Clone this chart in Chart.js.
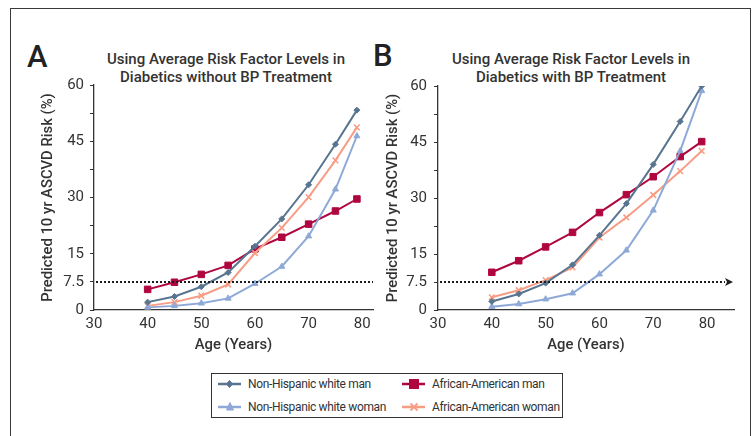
<!DOCTYPE html>
<html>
<head>
<meta charset="utf-8">
<script src="https://cdn.jsdelivr.net/npm/chart.js@4/dist/chart.umd.min.js"></script>
<style>
  body { margin: 0; width: 756px; height: 436px; background: #fff; position: relative; overflow: hidden;
         font-family: Roboto, "Noto Sans", sans-serif; color: #2e2e2e; }
  #frame { position: absolute; left: 10px; top: 8px; width: 741px; height: 460px;
           border: 1.5px solid #3a3a3a; box-sizing: border-box; }
  .letter { position: absolute; font-size: 31px; font-weight: 500; line-height: 30px; color: #222; }
  .title { position: absolute; width: 320px; text-align: center; font-size: 15px; font-weight: 500;
           line-height: 18px; color: #333; }
  .chart-box { position: absolute; top: 70px; width: 370px; height: 300px; }
  #legend { position: absolute; left: 211px; top: 373px; width: 352px; height: 45px;
            border: 1.3px solid #333; box-sizing: border-box; font-size: 12px; letter-spacing: -0.35px; color: #333; }
  .item { position: absolute; height: 16px; line-height: 16px; white-space: nowrap; }
  .item svg { position: absolute; left: 0; top: 0; }
  .item span { position: absolute; left: 30px; top: 0; }
</style>
</head>
<body>
<div id="frame"></div>

<div class="letter" style="left:27px; top:42px;">A</div>
<div class="letter" style="left:373px; top:41px;">B</div>
<div class="title" style="left:66px; top:50px;">Using Average Risk Factor Levels in<br>Diabetics without BP Treatment</div>
<div class="title" style="left:411px; top:50px;">Using Average Risk Factor Levels in<br>Diabetics with BP Treatment</div>

<div class="chart-box" style="left:10px;"><canvas id="chartA" width="370" height="300"></canvas></div>
<div class="chart-box" style="left:380px;"><canvas id="chartB" width="370" height="300"></canvas></div>

<div id="legend"></div>

<script>
// ---- data ----
var ages = [40, 45, 50, 55, 60, 65, 70, 75, 79];

// A: diabetics without BP treatment
var noTxWhiteMan   = [2.1, 3.6, 6.2, 10.0, 17.0, 24.3, 33.4, 44.2, 53.3];
var noTxWhiteWoman = [0.7, 1.1, 1.8, 3.1, 7.0, 11.6, 19.7, 32.2, 46.4];
var noTxBlackMan   = [5.5, 7.4, 9.5, 11.9, 16.3, 19.4, 22.9, 26.4, 29.6];
var noTxBlackWoman = [1.1, 2.1, 3.8, 6.8, 15.2, 21.9, 30.1, 39.9, 48.7];

// B: diabetics with BP treatment
var txWhiteMan   = [2.3, 4.3, 7.2, 12.1, 20.0, 28.5, 39.0, 50.5, 60.0];
var txWhiteWoman = [0.9, 1.6, 2.9, 4.5, 9.6, 16.0, 26.7, 42.6, 58.7];
var txBlackMan   = [10.1, 13.2, 16.9, 20.8, 26.1, 30.9, 35.7, 41.1, 45.1];
var txBlackWoman = [3.4, 5.3, 8.0, 11.4, 19.4, 24.8, 30.8, 37.2, 42.6];

var seriesNames = ['Non-Hispanic white man', 'African-American man', 'Non-Hispanic white woman', 'African-American woman'];
var xTicks = [30, 40, 50, 60, 70, 80];
var yTicks = [0, 7.5, 15, 22.5, 30, 37.5, 45, 52.5, 60];
var yLabels = [0, 7.5, 15, 30, 45, 60];
var threshold = 7.5;

(function() {
    'use strict';

    var colors = {
        whiteMan: '#587590',
        whiteWoman: '#8ea9d8',
        blackMan: '#b0063f',
        blackWoman: '#f89d85'
    };
    var textColor = '#333';

    function toPoints(values) {
        return values.map(function(v, i) { return { x: ages[i], y: v }; });
    }

    function makeDataset(label, values, color, style, radius) {
        return {
            label: label,
            data: toPoints(values),
            borderColor: color,
            backgroundColor: color,
            borderWidth: 2,
            pointStyle: style,
            pointRadius: radius,
            pointBorderWidth: style === 'crossRot' ? 1.6 : 1,
            pointBackgroundColor: color,
            pointBorderColor: color,
            tension: 0,
            showLine: true
        };
    }

    // Dotted reference line at the 7.5% threshold
    var thresholdLine = {
        id: 'thresholdLine',
        afterDatasetsDraw: function(chart, args, opts) {
            var ctx = chart.ctx;
            var area = chart.chartArea;
            var y = chart.scales.y.getPixelForValue(opts.value);
            var x1 = opts.arrow ? area.right - 9 : area.right;
            ctx.save();
            ctx.strokeStyle = '#1e1e1e';
            ctx.lineWidth = 2;
            ctx.setLineDash([2, 2]);
            ctx.beginPath();
            ctx.moveTo(area.left + 2, y);
            ctx.lineTo(x1, y);
            ctx.stroke();
            if (opts.arrow) {
                ctx.setLineDash([]);
                ctx.fillStyle = '#1e1e1e';
                ctx.beginPath();
                ctx.moveTo(area.right - 1, y);
                ctx.lineTo(area.right - 9, y - 4);
                ctx.lineTo(area.right - 7, y);
                ctx.lineTo(area.right - 9, y + 4);
                ctx.closePath();
                ctx.fill();
            }
            ctx.restore();
        }
    };

    function buildChart(id, sets, cfg) {
        var ctx = document.getElementById(id).getContext('2d');
        return new Chart(ctx, {
            type: 'scatter',
            data: {
                datasets: [
                    makeDataset(seriesNames[0], sets[0], colors.whiteMan, 'rectRot', 3),
                    makeDataset(seriesNames[2], sets[1], colors.whiteWoman, 'triangle', 3.5),
                    makeDataset(seriesNames[3], sets[3], colors.blackWoman, 'crossRot', 4),
                    makeDataset(seriesNames[1], sets[2], colors.blackMan, 'rect', 4.6)
                ]
            },
            options: {
                responsive: false,
                animation: false,
                layout: { padding: { left: 0, top: 15, right: cfg.padRight, bottom: 0 } },
                plugins: {
                    legend: { display: false },
                    tooltip: { enabled: false },
                    thresholdLine: { value: threshold, arrow: cfg.arrow }
                },
                scales: {
                    x: {
                        type: 'linear',
                        min: 30,
                        max: cfg.xMax,
                        afterBuildTicks: function(s) { s.ticks = xTicks.map(function(v) { return { value: v }; }); },
                        afterFit: function(s) { s.height = 60; },
                        grid: { drawOnChartArea: false, drawTicks: false },
                        border: { color: '#333', width: 1.3 },
                        ticks: { padding: 5, maxRotation: 0, color: textColor,
                                 font: { family: 'Roboto', size: 15 } },
                        title: { display: true, text: 'Age (Years)', color: textColor,
                                 font: { family: 'Roboto', size: 14.8, weight: '500' },
                                 padding: { top: 0, bottom: 16 } }
                    },
                    y: {
                        min: 0,
                        max: 60,
                        afterBuildTicks: function(s) { s.ticks = yTicks.map(function(v) { return { value: v }; }); },
                        afterFit: function(s) { s.width = cfg.yWidth; },
                        grid: { drawOnChartArea: false, tickLength: 4, color: '#333', tickWidth: 1 },
                        border: { color: '#333', width: 1.3 },
                        ticks: {
                            padding: cfg.tickPad,
                            color: textColor,
                            font: { family: 'Roboto', size: 15 },
                            callback: function(v) { return yLabels.indexOf(v) >= 0 ? v : ''; }
                        },
                        title: { display: true, text: 'Predicted 10 yr ASCVD Risk (%)', color: textColor,
                                 font: { family: 'Roboto', size: 14.8, weight: '500' },
                                 padding: { top: cfg.titlePad, bottom: 0 } }
                    }
                }
            },
            plugins: [thresholdLine]
        });
    }

    buildChart('chartA', [noTxWhiteMan, noTxWhiteWoman, noTxBlackMan, noTxBlackWoman],
        { xMax: 82, padRight: 7, yWidth: 84, tickPad: 6, titlePad: 29, arrow: false });
    buildChart('chartB', [txWhiteMan, txWhiteWoman, txBlackMan, txBlackWoman],
        { xMax: 85, padRight: 16, yWidth: 58, tickPad: 7, titlePad: 4, arrow: true });

    // Shared legend
    var markers = {
        diamond: '<path d="M11.5 4.5 L14.5 8 L11.5 11.5 L8.5 8 Z"/>',
        square: '<rect x="7.5" y="3.5" width="9" height="9"/>',
        triangle: '<path d="M12 3.5 L15.5 11 L8.5 11 Z"/>',
        cross: '<path d="M8.5 4.5 L15.5 11.5 M15.5 4.5 L8.5 11.5" fill="none" stroke-width="1.8"/>'
    };
    var items = [
        { name: seriesNames[0], color: colors.whiteMan, marker: 'diamond', left: 6, top: 2 },
        { name: seriesNames[1], color: colors.blackMan, marker: 'square', left: 190, top: 2 },
        { name: seriesNames[2], color: colors.whiteWoman, marker: 'triangle', left: 6, top: 25 },
        { name: seriesNames[3], color: colors.blackWoman, marker: 'cross', left: 190, top: 25 }
    ];
    var html = '';
    items.forEach(function(it) {
        html += '<div class="item" style="left:' + it.left + 'px; top:' + it.top + 'px;">' +
            '<svg width="24" height="16" fill="' + it.color + '" stroke="' + it.color + '">' +
            '<line x1="0" y1="8" x2="23" y2="8" stroke-width="2.5"/>' + markers[it.marker] + '</svg>' +
            '<span>' + it.name + '</span></div>';
    });
    document.getElementById('legend').innerHTML = html;
})();
</script>
</body>
</html>
